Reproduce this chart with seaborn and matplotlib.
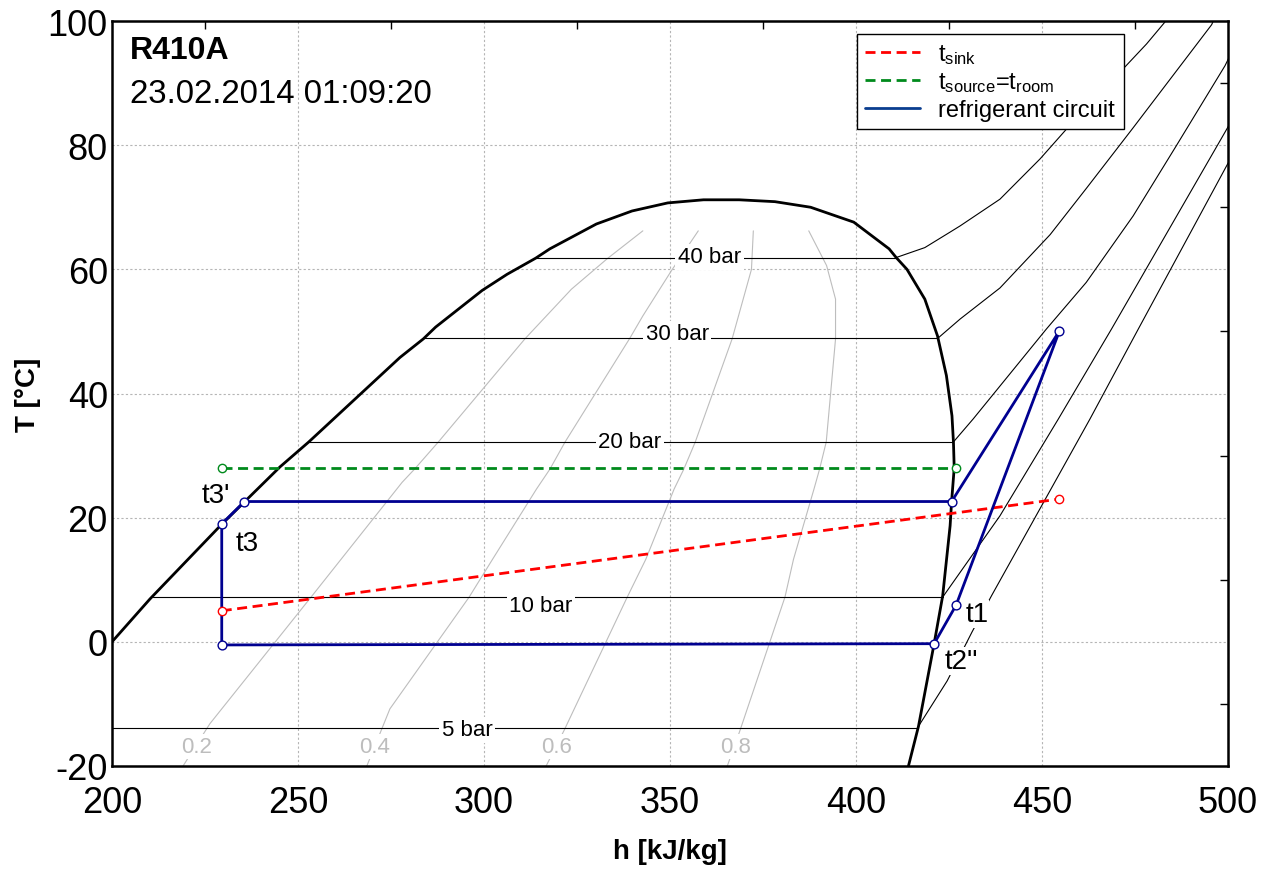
import matplotlib
matplotlib.use("Agg")
import matplotlib.pyplot as plt
import seaborn as sns
from matplotlib.lines import Line2D
from matplotlib.ticker import MultipleLocator

# ---------------- data ----------------
# saturation dome (liquid side -> critical point -> vapour side)
dome_h = [200.0, 210.2, 229.6, 235.7, 245.2, 252.9, 277.4, 283.7, 287.0, 299.5,
          306.2, 313.9, 317.7, 330.2, 339.8, 349.4, 359.0, 368.6,
          378.2, 387.8, 399.4, 408.9, 410.8, 413.7, 418.5, 421.9, 424.3, 425.8,
          426.2, 426.4, 425.7, 425.3, 423.3, 421.0, 416.8, 414.1]
dome_T = [0.0, 6.9, 19.0, 22.6, 28.2, 32.2, 45.8, 48.8, 50.7, 56.6,
          59.2, 61.8, 63.3, 67.3, 69.4, 70.7, 71.2, 71.2,
          70.9, 70.0, 67.6, 63.3, 61.9, 60.0, 55.2, 49.3, 42.9, 36.4,
          32.1, 28.0, 22.6, 18.7, 7.4, -0.3, -13.6, -20.0]

# isobars: two-phase part (horizontal)
isobar_labels = ["5 bar", "10 bar", "20 bar", "30 bar", "40 bar"]
isobar_T_sat = [-13.9, 7.2, 32.2, 48.9, 61.9]
isobar_h_liq = [200.0, 211.1, 252.9, 284.0, 313.9]
isobar_h_vap = [416.8, 423.3, 426.2, 422.0, 410.8]
isobar_label_h = [295.4, 315.3, 339.2, 351.9, 360.6]
isobar_label_T = [-14.2, 5.9, 32.3, 49.6, 62.0]

# isobars: superheated part
sh5_h = [416.8, 424.5, 431.2, 436.5, 462.9, 475.9, 499.2, 501.0]
sh5_T = [-13.6, -6.3, 1.6, 7.5, 35.9, 50.4, 76.2, 78.2]
sh10_h = [423.3, 438.7, 454.4, 468.7, 499.2, 501.0]
sh10_T = [7.2, 20.3, 35.9, 50.4, 82.1, 84.0]
sh20_h = [426.2, 431.5, 451.2, 461.9, 474.5, 486.1, 499.2, 501.0]
sh20_T = [32.2, 35.9, 50.4, 57.9, 68.6, 79.9, 92.8, 95.0]
sh30_h = [422.0, 428.0, 438.7, 452.2, 462.0, 474.5, 495.6, 496.5]
sh30_T = [48.9, 52.0, 57.0, 65.6, 73.1, 82.8, 99.4, 100.6]
sh40_h = [410.8, 418.5, 425.3, 428.0, 438.7, 449.5, 456.6, 478.1, 483.0, 483.8]
sh40_T = [61.9, 63.5, 66.0, 67.0, 71.3, 77.8, 82.6, 96.3, 99.8, 100.6]

# vapour quality lines
q_labels = ["0.2", "0.4", "0.6", "0.8"]
q_label_h = [222.8, 270.7, 319.4, 367.5]
q_label_T = -16.9
q02_h = [219.1, 226.3, 253.5, 278.0, 281.3, 287.6, 311.0, 323.5, 333.1, 342.7]
q02_T = [-20.0, -13.2, 7.2, 25.7, 27.8, 32.1, 48.8, 56.8, 61.7, 66.2]
q04_h = [268.5, 274.7, 296.0, 302.3, 314.1, 317.7, 321.8, 339.2, 342.7, 350.4, 357.6]
q04_T = [-20.0, -10.8, 7.2, 13.3, 24.6, 27.8, 32.2, 48.9, 52.5, 59.8, 66.2]
q06_h = [316.7, 321.5, 338.5, 343.5, 351.1, 353.7, 356.8, 366.7, 371.9, 372.4]
q06_T = [-20.0, -14.3, 7.2, 13.3, 24.6, 27.8, 32.2, 48.8, 60.0, 66.2]
q08_h = [365.4, 368.8, 380.9, 383.2, 388.7, 390.2, 392.0, 394.5, 394.5, 392.1, 387.3]
q08_T = [-20.0, -14.3, 7.2, 13.3, 24.6, 27.8, 32.2, 48.8, 55.2, 60.6, 66.2]

# refrigerant circuit
cycle_h = [229.5, 229.5, 421.0, 426.9, 454.7, 425.7, 235.6, 229.5]
cycle_T = [19.0, -0.5, -0.3, 5.9, 50.1, 22.6, 22.6, 19.0]
cycle_names = ["t3'", "t3", "t1", "t2''"]
cycle_name_h = [227.8, 236.3, 432.5, 428.4]
cycle_name_T = [23.7, 15.9, 4.5, -3.1]

# sink / source temperatures
sink_h = [229.5, 454.7]
sink_T = [5.0, 23.0]
source_h = [229.5, 426.9]
source_T = [28.0, 28.0]

title_text = "R410A"
date_text = "23.02.2014 01:09:20"

# ---------------- style ----------------
sns.set_theme(style="white")
plt.rcParams["font.family"] = ["Liberation Sans", "DejaVu Sans"]
plt.rcParams["mathtext.fontset"] = "custom"
plt.rcParams["mathtext.rm"] = "Liberation Sans"
plt.rcParams["mathtext.it"] = "Liberation Sans:italic"
plt.rcParams["mathtext.bf"] = "Liberation Sans:bold"
plt.rcParams["axes.unicode_minus"] = False
plt.rcParams["text.color"] = "black"
plt.rcParams["axes.labelcolor"] = "black"
plt.rcParams["xtick.color"] = "black"
plt.rcParams["ytick.color"] = "black"

fig = plt.figure(figsize=(12.68, 8.70), dpi=100)
ax = fig.add_axes([112 / 1268, 1 - 767 / 870, 1116 / 1268, 745 / 870])
ax.set_xlim(200, 500)
ax.set_ylim(-20, 100)

BLUE = "#000090"
RED = "#ff0000"
GREEN = "#008a1c"
GREY = "#bdbdbd"
DASH = (0, (3.6, 2.0))


def line(h, T, **kw):
    sns.lineplot(x=h, y=T, sort=False, estimator=None, ax=ax, legend=False, **kw)


# quality lines
for qh, qT in [(q02_h, q02_T), (q04_h, q04_T), (q06_h, q06_T), (q08_h, q08_T)]:
    line(qh, qT, color=GREY, linewidth=0.8, zorder=1)
for lab, lh in zip(q_labels, q_label_h):
    ax.text(lh, q_label_T, lab, fontsize=16, color=GREY, ha="center", va="center",
            zorder=3, bbox=dict(facecolor="white", edgecolor="none", pad=1.5))

# isobars
for Ts, hl, hv in zip(isobar_T_sat, isobar_h_liq, isobar_h_vap):
    line([hl, hv], [Ts, Ts], color="black", linewidth=0.8, zorder=2)
for sh, sT in [(sh5_h, sh5_T), (sh10_h, sh10_T), (sh20_h, sh20_T),
               (sh30_h, sh30_T), (sh40_h, sh40_T)]:
    line(sh, sT, color="black", linewidth=0.8, zorder=2)
for lab, lh, lT in zip(isobar_labels, isobar_label_h, isobar_label_T):
    ax.text(lh, lT, lab, fontsize=16, color="black", ha="center", va="center",
            zorder=3, bbox=dict(facecolor="white", edgecolor="none", pad=2))

# saturation dome
line(dome_h, dome_T, color="black", linewidth=2.0, zorder=4)

# sink / source
line(sink_h, sink_T, color=RED, linewidth=2.0, linestyle=DASH, zorder=5)
line(source_h, source_T, color=GREEN, linewidth=2.0, linestyle=DASH, zorder=5)
sns.scatterplot(x=sink_h, y=sink_T, ax=ax, s=36, facecolor="white", edgecolor=RED,
                linewidth=1.0, zorder=8, legend=False)
sns.scatterplot(x=source_h, y=source_T, ax=ax, s=36, facecolor="white", edgecolor=GREEN,
                linewidth=1.0, zorder=8, legend=False)

# refrigerant circuit
line(cycle_h, cycle_T, color=BLUE, linewidth=2.0, zorder=6)
sns.scatterplot(x=cycle_h[:-1], y=cycle_T[:-1], ax=ax, s=40, facecolor="white",
                edgecolor=BLUE, linewidth=1.0, zorder=8, legend=False)

for lab, lh, lT in zip(cycle_names, cycle_name_h, cycle_name_T):
    ax.text(lh, lT, lab, fontsize=20, color="black", ha="center", va="center",
            zorder=7, bbox=dict(facecolor="white", edgecolor="none", pad=0.5))

# texts
ax.text(0.016, 0.9617, title_text, transform=ax.transAxes, fontsize=23,
        fontweight="bold", ha="left", va="center")
ax.text(0.016, 0.9027, date_text, transform=ax.transAxes, fontsize=23.8,
        ha="left", va="center")

# axes styling
ax.xaxis.set_major_locator(MultipleLocator(50))
ax.xaxis.set_minor_locator(MultipleLocator(25))
ax.yaxis.set_major_locator(MultipleLocator(20))
ax.yaxis.set_minor_locator(MultipleLocator(10))
ax.grid(True, which="major", color="#b5b5b5", linestyle=(0, (2, 2)), linewidth=0.8)
ax.set_axisbelow(True)
ax.tick_params(which="both", direction="in", top=True, right=True, colors="black")
ax.tick_params(which="major", length=0, labelsize=26)
ax.tick_params(which="minor", length=6, width=1.0)
ax.tick_params(axis="x", which="major", pad=14)
ax.tick_params(axis="y", which="major", pad=3)
for sp in ax.spines.values():
    sp.set_color("black")
    sp.set_linewidth(1.8)
    sp.set_visible(True)

ax.set_xlabel("h [kJ/kg]", fontsize=20, fontweight="bold", labelpad=13)
ax.set_ylabel("T [°C]", fontsize=20, fontweight="bold", labelpad=5)

# legend
handles = [
    Line2D([0], [0], color=RED, linewidth=2.0, linestyle=DASH),
    Line2D([0], [0], color=GREEN, linewidth=2.0, linestyle=DASH),
    Line2D([0], [0], color="#0a3d8f", linewidth=2.0),
]
labels = ["t$_{\\mathrm{sink}}$", "t$_{\\mathrm{source}}$=t$_{\\mathrm{room}}$",
          "refrigerant circuit"]
leg = ax.legend(handles, labels, loc="upper left", bbox_to_anchor=(0.6676, 0.983),
                fontsize=17, frameon=True, fancybox=False, framealpha=1,
                edgecolor="black", borderpad=0.35, labelspacing=0.2,
                handlelength=2.3, handletextpad=0.8, borderaxespad=0)
leg.get_frame().set_linewidth(1.0)
leg.set_zorder(10)

fig.savefig("out.png", dpi=100)
